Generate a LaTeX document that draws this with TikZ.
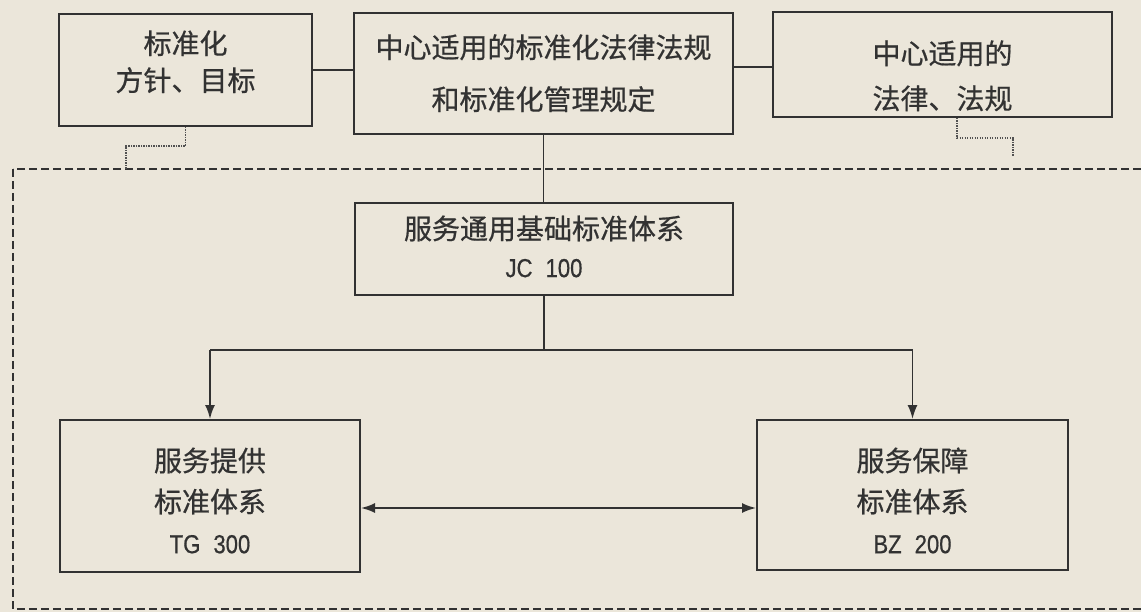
\documentclass[tikz,border=0pt]{standalone}
\usepackage{fontspec}
\newfontfamily\cjk[FakeBold=0.6]{Noto Sans CJK SC}
\newfontfamily\narrowfont[FakeStretch=0.85,FakeBold=0.6]{Liberation Sans}
\usetikzlibrary{arrows.meta}
\definecolor{paper}{RGB}{235,230,218}
\definecolor{ink}{RGB}{50,50,50}
\newcommand{\lat}[1]{{\narrowfont\fontsize{26}{26}\selectfont #1}}
\begin{document}
\begin{tikzpicture}[x=1pt,y=-1pt,
  box/.style={draw=ink, line width=2pt, inner sep=0pt, text=ink},
  conn/.style={draw=ink, line width=1.8pt},
  arr/.style={conn, -{Latex[length=14pt,width=10pt]}},
  dotconn/.style={draw=ink!85, line width=1.5pt, dash pattern=on 1.3pt off 1.2pt},
  frame/.style={draw=ink, line width=2.2pt, dash pattern=on 8pt off 4pt}]
\fill[paper] (0,0) rectangle (1141,612);
\useasboundingbox (0,0) rectangle (1141,612);

\node[box, minimum width=253pt, minimum height=112pt,
      font=\cjk\fontsize{28}{37}\selectfont] (b1) at (185.5,70)
  {\raisebox{5pt}[\height][\depth]{\begin{tabular}{@{}c@{}}标准化\\方针、目标\end{tabular}}};
\node[box, minimum width=379pt, minimum height=121pt,
      font=\cjk\fontsize{28}{52}\selectfont] (b2) at (543.5,73.5)
  {\begin{tabular}{@{}c@{}}中心适用的标准化法律法规\\和标准化管理规定\end{tabular}};
\node[box, minimum width=339pt, minimum height=105pt,
      font=\cjk\fontsize{28}{45}\selectfont] (b3) at (942.5,64.5)
  {\raisebox{-13pt}[\height][\depth]{\begin{tabular}{@{}c@{}}中心适用的\\法律、法规\end{tabular}}};
\node[box, minimum width=378pt, minimum height=92pt,
      font=\cjk\fontsize{28}{38}\selectfont] (jc) at (544,249)
  {\raisebox{-1.5pt}[\height][\depth]{\begin{tabular}{@{}c@{}}服务通用基础标准体系\\\lat{JC\hspace{0.5em}100}\end{tabular}}};
\node[box, minimum width=300pt, minimum height=152pt,
      font=\cjk\fontsize{28}{41}\selectfont] (tg) at (210,496)
  {\raisebox{-8pt}[\height][\depth]{\begin{tabular}{@{}c@{}}服务提供\\标准体系\\\lat{TG\hspace{0.5em}300}\end{tabular}}};
\node[box, minimum width=311pt, minimum height=150pt,
      font=\cjk\fontsize{28}{41}\selectfont] (bz) at (912.5,495)
  {\raisebox{-9pt}[\height][\depth]{\begin{tabular}{@{}c@{}}服务保障\\标准体系\\\lat{BZ\hspace{0.5em}200}\end{tabular}}};

% frame
\draw[frame] (13,169) rectangle (1175,609);

% connectors
\draw[conn] (b1.east) -- (b1.east -| b2.west);
\draw[conn] ([yshift=-2.5pt]b3.west -| b2.east) -- ([yshift=-2.5pt]b3.west);
\draw[conn] (b2.south) -- (b2.south |- jc.north);
\coordinate (split) at (544,350);
\draw[conn] (jc.south) -- (split);
\draw[conn] (split -| tg.north) -- (split -| bz.north);
\draw[arr] (split -| tg.north) -- (tg.north);
\draw[arr] (split -| bz.north) -- (bz.north);
\draw[conn, {Latex[length=14pt,width=10pt]}-{Latex[length=14pt,width=10pt]}]
  ([yshift=-12pt]tg.east) -- ([yshift=-12pt]tg.east -| bz.west);

% dotted links
\coordinate (d1) at (126,169);
\draw[dotconn] (b1.south) -- ++(0,19) -| (d1);
\coordinate (d3) at (1013,156);
\draw[dotconn] ([xshift=14.5pt]b3.south) -- ++(0,20) -| (d3);
\end{tikzpicture}
\end{document}
